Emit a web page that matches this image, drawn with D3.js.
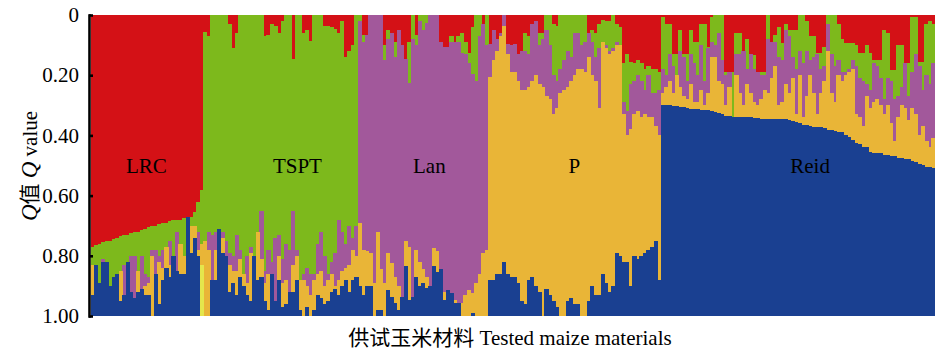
<!DOCTYPE html>
<html>
<head>
<meta charset="utf-8">
<script src="https://cdn.jsdelivr.net/npm/d3@7"></script>
<style>
  body { margin: 0; background: #fff; }
  svg { display: block; }
</style>
</head>
<body>
<svg id="chart" width="935" height="351"></svg>
<script>
// groups in plot order; labelAt = bar position (inside group) where the name sits
const groups = [
  { name: "LRC", n: 32, labelAt: 15.9 },
  { name: "TSPT", n: 44, labelAt: 26.8 },
  { name: "Lan", n: 37, labelAt: 20.3 },
  { name: "P", n: 49, labelAt: 24.5 },
  { name: "Reid", n: 78, labelAt: 42.5 }
];
const clusters = ["LRC", "TSPT", "Lan", "P", "pale", "Reid"];
const yTicks = [0, 0.2, 0.4, 0.6, 0.8, 1];

// cumulative Q read from the top of each bar, where each cluster's block ends
// (one line per group: LRC / TSPT / Lan / P / Reid)
const lrcEnd = [
  .77,.765,.76,.755,.75,.75,.745,.74,.735,.73,.73,.725,.72,.72,.715,.71,.705,.70,.70,.695,.69,.69,.685,.68,.68,.68,.675,.67,.67,.655,.62,.58,
  .055,.07,0,0,0,0,0,.03,.11,.06,0,0,0,0,0,0,0,.07,.065,.03,.035,.06,.02,0,0,.145,0,0,.06,.05,.085,0,0,0,.035,.035,.04,.045,.06,.02,.14,.12,.10,0,
  0,.065,.065,0,0,0,0,.10,.05,.06,.09,.05,.10,.145,.09,0,.065,0,0,0,0,0,0,.09,.105,.105,.07,.09,.07,.06,.09,.125,.04,0,0,.03,0,
  .095,.05,.08,.06,0,.095,.10,.095,.13,.12,.06,.07,.03,.02,.06,.06,0,0,.03,.035,0,0,0,0,0,0,0,0,.06,.05,.06,.03,.015,.02,.02,0,.03,.04,.16,.13,.155,.16,.15,.16,.18,.17,.18,.18,.19,
  .005,.03,.03,.13,.13,.05,.13,.13,.05,.09,.09,.03,.03,.105,.005,0,0,0,.19,.19,.19,.06,.06,.12,.08,.13,.133,.188,.188,.188,0,.09,.066,.04,.094,.03,.05,.05,.05,0,0,.02,.07,.07,.127,.127,.105,0,0,0,.03,.08,.094,.094,.094,.10,.127,.127,.10,.127,.15,.15,.15,.05,.06,.183,.183,.10,.10,.16,.16,.005,.005,.155,.155,.03,.02,.03
];
const tsptEnd = [
  .83,.83,.89,.81,.82,.90,.87,.86,.85,.83,.82,.80,.80,.85,.80,.86,.87,.78,.78,.80,.78,.77,.75,.80,.72,.76,.80,.67,.70,.70,.72,.76,
  .75,.72,.73,.72,.71,.72,.75,.79,.80,.73,.78,.86,.80,.77,.80,.72,.65,.85,.78,.82,.74,.73,.81,.76,.78,.65,.78,.88,.86,.84,.86,.86,.76,.72,.80,.86,.82,.79,.68,.72,.76,.70,.74,.70,
  .02,.09,.065,0,0,0,0,.15,.08,.06,.14,.05,.10,.145,.225,.08,.10,.02,.05,.025,0,0,0,.09,.105,.105,.09,.09,.09,.125,.13,.16,.195,.22,.07,.03,.10,
  .095,.05,.08,.06,0,.095,.10,.095,.13,.12,.12,.13,.03,.02,.10,.08,.05,.10,.20,.22,.18,.15,.12,.14,.06,.06,.10,.09,.06,.09,.14,.11,.09,.10,.12,.11,.09,.10,.29,.32,.23,.22,.20,.22,.25,.20,.26,.26,.25,
  .18,.20,.13,.17,.20,.12,.14,.22,.13,.16,.20,.10,.22,.11,.09,.10,.06,.15,.20,.19,.338,.13,.13,.12,.18,.13,.18,.19,.20,.20,.08,.09,.09,.14,.15,.05,.07,.14,.18,.12,.16,.12,.15,.14,.13,.18,.17,.03,.13,.17,.15,.19,.19,.18,.15,.17,.21,.22,.23,.25,.16,.17,.21,.28,.21,.22,.28,.27,.24,.16,.27,.19,.13,.17,.25,.20,.23,.16
];
const lanEnd = [
  .83,.83,.89,.82,.82,.90,.87,.86,.85,.93,.82,.92,.94,.85,.91,.90,.89,.80,.86,.82,.84,.77,.83,.80,.85,.76,.80,.67,.70,.70,.78,.76,
  .75,.78,.88,.78,.71,.74,.80,.83,.85,.85,.81,.86,.89,.79,.80,.72,.81,.89,.86,.86,.95,.80,.89,.88,.92,.83,.80,.88,.88,.90,.93,.88,.86,.85,.90,.88,.86,.90,.88,.85,.84,.83,.78,.80,
  .69,.78,.785,.79,.89,.72,.845,.89,.79,.825,.87,.90,.936,.75,.77,.936,.78,.82,.845,.87,.90,.775,.785,.845,.92,.914,.925,.947,.958,.958,.93,.914,.925,.89,.86,.79,.78,
  .205,.15,.12,.07,.035,.13,.19,.19,.22,.25,.25,.24,.22,.20,.23,.24,.27,.28,.33,.31,.26,.25,.24,.22,.20,.18,.18,.19,.14,.20,.22,.31,.09,.11,.13,.12,.10,.10,.33,.40,.38,.33,.32,.34,.33,.34,.34,.37,.40,
  .26,.24,.22,.26,.20,.24,.27,.28,.23,.29,.29,.25,.30,.26,.14,.14,.22,.23,.30,.24,.338,.20,.26,.30,.23,.26,.29,.30,.28,.25,.26,.21,.17,.30,.29,.23,.26,.21,.33,.20,.34,.27,.20,.26,.33,.26,.22,.12,.26,.29,.20,.22,.20,.19,.18,.33,.34,.37,.27,.31,.29,.28,.30,.33,.30,.36,.42,.34,.30,.31,.35,.31,.33,.40,.37,.42,.44,.41
];
const pEnd = [
  .93,.83,.89,.82,.82,.90,.87,.86,.95,.93,.82,.92,.94,.92,.91,.93,.93,1,.86,.96,.88,.84,.87,.80,.85,.86,.86,.67,.79,.74,.80,.83,
  1,1,.88,.88,.71,.79,.80,.92,.89,.93,.87,.90,.93,.95,.80,.88,.87,.95,.98,.86,.95,.88,.97,.96,.92,.92,.88,.98,1,.97,1,.98,.93,.94,.96,.95,.92,.91,.93,.90,.88,.92,.88,.87,
  .90,.93,.90,.90,1,.98,.98,1,.914,.936,.958,.98,.936,.835,.947,.936,.87,.90,.89,.908,.90,.835,.853,.845,.947,.914,.925,.958,.958,1,1,1,.99,1,1,1,1,
  .88,.88,.86,.86,.82,.86,.87,.87,.89,.95,.96,.88,.87,.90,.92,1,.91,.93,.95,.97,1,1,.95,.94,.96,.96,1,1,.95,.90,.93,.93,.86,.89,.92,.90,.79,.80,.82,.82,.90,.80,.81,.80,.79,.78,.77,.75,.88,
  .30,.30,.30,.302,.303,.307,.307,.308,.312,.312,.313,.316,.316,.317,.32,.322,.327,.328,.334,.334,.338,.338,.338,.338,.338,.34,.343,.343,.344,.345,.347,.347,.347,.347,.347,.347,.348,.352,.357,.36,.365,.366,.368,.371,.371,.372,.376,.382,.383,.385,.388,.39,.40,.405,.415,.425,.43,.437,.44,.455,.457,.458,.46,.465,.466,.468,.47,.476,.476,.478,.478,.485,.487,.495,.497,.504,.505,.508
];
// the one bar with a pale-yellow block (placed right under P)
const paleQ = [{ bar: 31, q: 0.17 }];

const colors = {
  LRC: "#d41116", TSPT: "#7db91c", Lan: "#a2589b",
  P: "#e9b537", pale: "#e4e64c", Reid: "#1a4091"
};

const svg = d3.select("#chart");
const N = d3.sum(groups, g => g.n);
const paleAt = new Map(paleQ.map(d => [d.bar, d.q]));

const rows = d3.range(N).map(i => {
  const pl = paleAt.get(i) || 0;
  const seg = {
    LRC: lrcEnd[i],
    TSPT: tsptEnd[i] - lrcEnd[i],
    Lan: lanEnd[i] - tsptEnd[i],
    P: pEnd[i] - lanEnd[i],
    pale: pl,
    Reid: 1 - pEnd[i] - pl
  };
  clusters.forEach(k => { seg[k] = Math.max(0, seg[k]); });
  return seg;
});

const stacked = d3.stack().keys(clusters)(rows);

const x = d3.scaleLinear().domain([0, N]).range([90.5, 935]);
const y = d3.scaleLinear().domain([0, 1]).range([15, 316]);

// bars
svg.append("g")
  .attr("shape-rendering", "crispEdges")
  .selectAll("g")
  .data(stacked)
  .join("g")
  .attr("fill", d => colors[d.key])
  .selectAll("rect")
  .data(d => d)
  .join("rect")
  .attr("x", (d, i) => x(i))
  .attr("width", (d, i) => x(i + 1) - x(i) + 0.6)
  .attr("y", d => y(d[0]))
  .attr("height", d => Math.max(0, y(d[1]) - y(d[0])));

// y axis, ticks pointing into the plot
const yAxis = svg.append("g")
  .attr("transform", "translate(89,0)")
  .call(d3.axisLeft(y)
    .tickValues(yTicks)
    .tickFormat(d => d === 0 ? "0" : d3.format(".2f")(d))
    .tickSizeInner(-4)
    .tickSizeOuter(0)
    .tickPadding(10));

yAxis.select(".domain")
  .attr("stroke", "#000")
  .attr("stroke-width", 2.6)
  .attr("stroke-linecap", "square");
yAxis.selectAll(".tick line")
  .attr("stroke", "#000")
  .attr("stroke-width", 2.6);
yAxis.selectAll(".tick text")
  .attr("fill", "#000")
  .style("font-family", "'Times New Roman', 'Liberation Serif', serif")
  .style("font-size", "21px");

// group names
let start = 0;
groups.forEach(g => {
  svg.append("text")
    .attr("x", x(start + g.labelAt))
    .attr("y", 173)
    .attr("text-anchor", "middle")
    .style("font-family", "'Times New Roman', 'Liberation Serif', serif")
    .style("font-size", "21px")
    .text(g.name);
  start += g.n;
});

// y label
const yLab = svg.append("text")
  .attr("transform", "translate(37,166) rotate(-90)")
  .attr("text-anchor", "middle")
  .style("font-family", "'Times New Roman', 'Liberation Serif', 'Noto Sans CJK SC', serif")
  .style("font-size", "21px");
yLab.append("tspan").style("font-style", "italic").style("font-size", "23px").text("Q");
yLab.append("tspan").text("值 ");
yLab.append("tspan").style("font-style", "italic").style("font-size", "23px").text("Q");
yLab.append("tspan").text(" value");

// x label
svg.append("text")
  .attr("x", 510)
  .attr("y", 345)
  .attr("text-anchor", "middle")
  .style("font-family", "'Times New Roman', 'Liberation Serif', 'Noto Sans CJK SC', serif")
  .style("font-size", "21px")
  .text("供试玉米材料 Tested maize materials");
</script>
</body>
</html>
